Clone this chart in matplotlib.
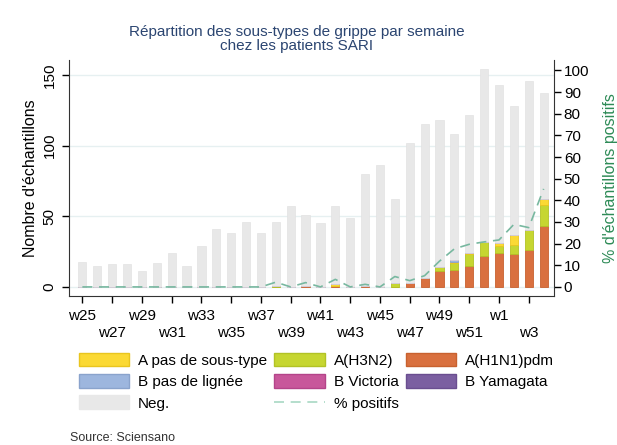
import numpy as np
import matplotlib.pyplot as plt
from matplotlib.patches import Patch
from matplotlib.lines import Line2D

plt.rcParams['font.family'] = ['Liberation Sans', 'DejaVu Sans']

# Weekly SARI samples, w25 to w4 of the next year
weeks = [f"w{w}" for w in list(range(25, 53)) + list(range(1, 5))]

h1n1 = [0, 0, 0, 0, 0, 0, 0, 0, 0, 0, 0, 0, 0, 0, 0, 1,
        0, 1, 0, 1, 0, 0, 3, 6, 11, 12, 15, 22, 24, 23, 26, 43]
h3n2 = [0, 0, 0, 0, 0, 0, 0, 0, 0, 0, 0, 0, 0, 1, 0, 0,
        0, 0, 0, 0, 0, 3, 0, 0, 3, 5, 8, 10, 5, 7, 14, 15]
a_nst = [0, 0, 0, 0, 0, 0, 0, 0, 0, 0, 0, 0, 0, 0, 0, 0,
         0, 1, 0, 0, 0, 0, 0, 0, 0, 1, 1, 0, 2, 7, 0, 4]
b_nl = [0, 0, 0, 0, 0, 0, 0, 0, 0, 0, 0, 0, 0, 0, 0, 0,
        0, 0, 0, 0, 0, 0, 0, 0, 0, 1, 0, 0, 0, 0, 0, 0]
b_vic = [0] * 32
b_yam = [0] * 32
total = [18, 15, 16, 16, 11, 17, 24, 15, 29, 41, 38, 46, 38, 46, 57, 51,
         45, 57, 49, 80, 86, 62, 102, 115, 118, 108, 122, 154, 143, 128, 146, 137]
pct_pos = [0, 0, 0, 0, 0, 0, 0, 0, 0, 0, 0, 0, 0, 2.2, 0, 2.0,
           0, 3.5, 0, 1.2, 0, 4.8, 2.9, 5.2, 11.9, 17.6, 19.7, 20.8, 21.7, 28.9, 27.4, 45.3]

series = [
    ("A(H1N1)pdm", h1n1, "#d9703f", "#c8612f"),
    ("A(H3N2)", h3n2, "#c6d631", "#b2c226"),
    ("A pas de sous-type", a_nst, "#fbd934", "#e9c51f"),
    ("B pas de lignée", b_nl, "#9db6de", "#8aa3cc"),
    ("B Victoria", b_vic, "#c8579b", "#b4448a"),
    ("B Yamagata", b_yam, "#7b5fa1", "#6a4e90"),
]

x = np.arange(len(weeks))
fig = plt.figure(figsize=(6.17, 4.45), dpi=100)
ax = fig.add_axes([0.1118, 0.3348, 0.7862, 0.5302])

bottom = np.zeros(len(weeks))
for name, vals, col, edge in series:
    vals = np.array(vals, dtype=float)
    ax.bar(x, vals, 0.55, bottom=bottom, color=col, edgecolor=edge, linewidth=0.6, zorder=3)
    bottom += vals
neg = np.array(total) - bottom
ax.bar(x, neg, 0.55, bottom=bottom, color="#e8e8e8", edgecolor="#e2e2e2", linewidth=0.5, zorder=3)

ax.set_xlim(-0.9, 31.7)
ax.set_ylim(-6.4, 160.5)
ax.set_yticks([0, 50, 100, 150])
ax.set_yticklabels(["0", "50", "100", "150"], rotation=90, va="center", fontsize=11)
ax.grid(axis="y", color="#e6f0f1", linewidth=1, zorder=0)
ax.set_ylabel("Nombre d'échantillons", fontsize=11.5, labelpad=3)

ax.set_xticks(x[::2])
labels = [("" if i % 2 == 0 else "\n") + weeks[t] for i, t in enumerate(x[::2])]
ax.set_xticklabels(labels, fontsize=11, linespacing=1.3)
ax.tick_params(axis="x", length=5, width=1, pad=4)
ax.tick_params(axis="y", length=5, width=1, pad=4)
for s in ["top", "right"]:
    ax.spines[s].set_visible(False)
for s in ["left", "bottom"]:
    ax.spines[s].set_color("#333333")

ax2 = ax.twinx()
ax2.plot(x, pct_pos, color="#78b8a0", linewidth=1.2, dashes=(6, 4), zorder=4)
ax2.set_ylim(-4.2, 104.8)
ax2.set_yticks(range(0, 101, 10))
ax2.tick_params(axis="y", labelsize=11, length=5, width=1, pad=2)
ax2.set_ylabel("% d'échantillons positifs", color="#2e8b57", fontsize=11.5, labelpad=10)
for s in ["top", "left", "bottom"]:
    ax2.spines[s].set_visible(False)
ax2.spines["right"].set_color("#333333")

fig.text(0.481, 0.912, "Répartition des sous-types de grippe par semaine\nchez les patients SARI",
         ha="center", va="center", fontsize=11, color="#2b4571", linespacing=0.95)

handles = [
    Patch(facecolor="#fbd934", edgecolor="#e9c51f"),
    Patch(facecolor="#9db6de", edgecolor="#8aa3cc"),
    Patch(facecolor="#e8e8e8", edgecolor="#e8e8e8"),
    Patch(facecolor="#c6d631", edgecolor="#b2c226"),
    Patch(facecolor="#c8579b", edgecolor="#b4448a"),
    Line2D([], [], color="#a8d8c4", linewidth=1.2, dashes=(6, 4)),
    Patch(facecolor="#d9703f", edgecolor="#c8612f"),
    Patch(facecolor="#7b5fa1", edgecolor="#6a4e90"),
]
names = ["A pas de sous-type", "B pas de lignée", "Neg.", "A(H3N2)", "B Victoria",
         "% positifs", "A(H1N1)pdm", "B Yamagata"]
fig.legend(handles, names, ncol=3, loc="upper left", bbox_to_anchor=(0.115, 0.225),
           frameon=False, fontsize=11, handlelength=3.3, handleheight=1.0,
           handletextpad=0.6, columnspacing=0.45, labelspacing=0.42, borderpad=0)

fig.text(0.113, 0.01, "Source: Sciensano", fontsize=9, color="#333333")

fig.savefig("out.png", dpi=100, facecolor="white")
